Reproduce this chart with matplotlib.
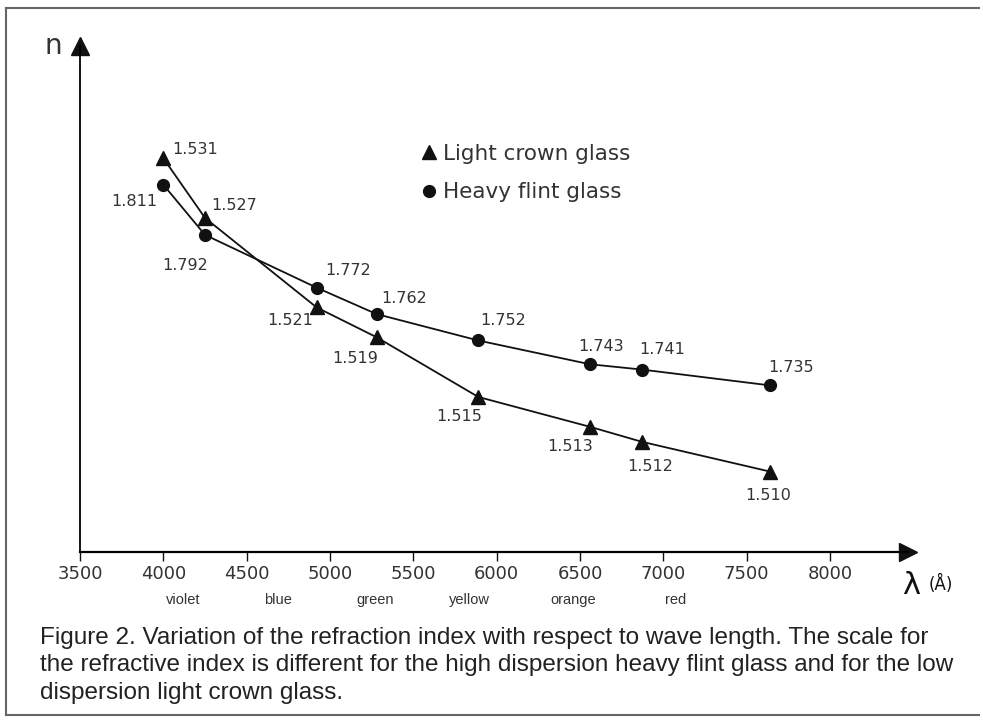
import matplotlib.pyplot as plt
from matplotlib.lines import Line2D

# wavelengths in angstrom
wavelength = [4000, 4250, 4920, 5280, 5890, 6560, 6870, 7640]
crown_n = [1.531, 1.527, 1.521, 1.519, 1.515, 1.513, 1.512, 1.510]
flint_n = [1.811, 1.792, 1.772, 1.762, 1.752, 1.743, 1.741, 1.735]

x_ticks = [3500, 4000, 4500, 5000, 5500, 6000, 6500, 7000, 7500, 8000]
colour_names = ['violet', 'blue', 'green', 'yellow', 'orange', 'red']
colour_pos = [4120, 4690, 5270, 5835, 6460, 7075]

# label offsets in pixels (dx, dy down) for each point
crown_off = [(32, -9), (29, -12), (-26, 13), (-21, 21), (-19, 20), (-20, 20), (9, 25), (-2, 24)]
flint_off = [(-29, 17), (-20, 31), (31, -17), (27, -16), (25, -20), (11, -18), (21, -20), (21, -18)]

caption = ("Figure 2. Variation of the refraction index with respect to wave length. The scale for\n"
           "the refractive index is different for the high dispersion heavy flint glass and for the low\n"
           "dispersion light crown glass.")

W, H = 983, 724
fig = plt.figure(figsize=(W / 100, H / 100), dpi=100)
ax = fig.add_axes([80 / W, 1 - 552 / H, 828 / W, 506 / H])
ax2 = ax.twinx()

ink = '#111111'
txt = '#333333'

ax.plot(wavelength, crown_n, color=ink, lw=1.3, marker='^', markersize=10, zorder=3)
ax2.plot(wavelength, flint_n, color=ink, lw=1.3, marker='o', markersize=8.5, zorder=3)

ax.set_xlim(3500, 8468)
ax.set_ylim(1.50461, 1.53852)
ax2.set_ylim(1.6719, 1.86353)

for axis in (ax, ax2):
    for s in ['top', 'right']:
        axis.spines[s].set_visible(False)
ax2.spines['left'].set_visible(False)
ax2.spines['bottom'].set_visible(False)
ax2.set_yticks([])
ax.set_yticks([])
ax.spines['left'].set_linewidth(1.3)
ax.spines['bottom'].set_linewidth(1.6)

ax.set_xticks(x_ticks)
ax.set_xticklabels([str(t) for t in x_ticks])
ax.tick_params(axis='x', direction='out', length=6.5, width=1, pad=3,
               labelsize=13, colors=ink)
for lab in ax.get_xticklabels():
    lab.set_color(txt)

# axis arrows
ax.plot(1, 0, '>', color=ink, markersize=13, transform=ax.transAxes, clip_on=False)
ax.plot(0, 1, '^', color=ink, markersize=13, transform=ax.transAxes, clip_on=False)

for x, v, (dx, dy) in zip(wavelength, crown_n, crown_off):
    ax.annotate(f'{v:.3f}', (x, v), xytext=(dx * 0.72, -dy * 0.72), textcoords='offset points',
                ha='center', va='center', fontsize=11.5, color=txt)
for x, v, (dx, dy) in zip(wavelength, flint_n, flint_off):
    ax2.annotate(f'{v:.3f}', (x, v), xytext=(dx * 0.72, -dy * 0.72), textcoords='offset points',
                 ha='center', va='center', fontsize=11.5, color=txt)

for name, x in zip(colour_names, colour_pos):
    ax.text(x, -48 / 506, name, transform=ax.get_xaxis_transform(), ha='center', va='center',
            fontsize=10.5, color=txt, family='Liberation Sans')

handles = [Line2D([], [], marker='^', color=ink, linestyle='none', markersize=10),
           Line2D([], [], marker='o', color=ink, linestyle='none', markersize=8.5)]
fig.legend(handles, ['Light crown glass', 'Heavy flint glass'], loc='upper left',
           bbox_to_anchor=(410 / W, 1 - 133 / H), frameon=False, fontsize=15.5,
           handlelength=0.8, handletextpad=0.25, labelspacing=0.85, borderpad=0,
           labelcolor=txt)

fig.text(53 / W, 1 - 46 / H, 'n', ha='center', va='center', fontsize=20, color=txt)
fig.text(911 / W, 1 - 586 / H, 'λ', ha='center', va='center', fontsize=22, color=ink)
fig.text(941 / W, 1 - 584 / H, '(Å)', ha='center', va='center', fontsize=12, color=ink)

fig.text(40 / W, 1 - 627 / H, caption, ha='left', va='top', fontsize=17.5, color='#222222',
         linespacing=1.32, family='Liberation Sans')

# frame around the figure
border = dict(color='#666666', lw=1.5, transform=fig.transFigure)
fig.add_artist(Line2D([6 / W, 6 / W], [1 - 8 / H, 1 - 715 / H], **border))
fig.add_artist(Line2D([6 / W, 979 / W], [1 - 8 / H, 1 - 8 / H], **border))
fig.add_artist(Line2D([6 / W, 979 / W], [1 - 715 / H, 1 - 715 / H], **border))

fig.savefig('out.png', dpi=100)
